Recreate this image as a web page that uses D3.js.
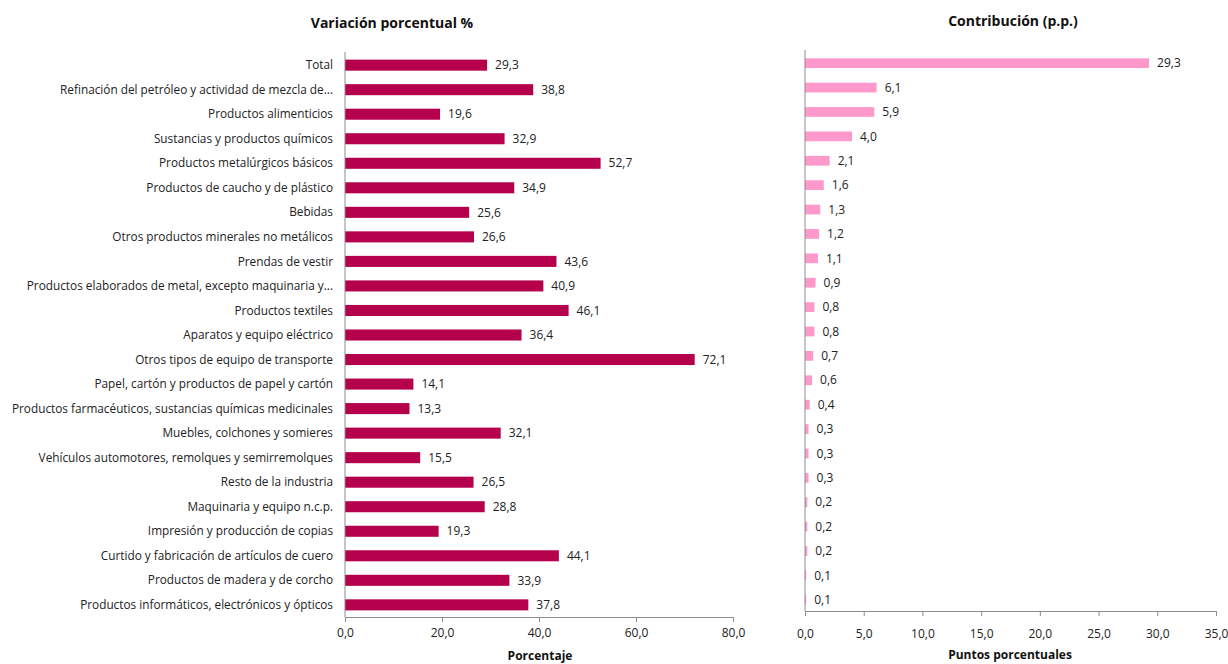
<!DOCTYPE html>
<html><head><meta charset="utf-8">
<script src="https://cdn.jsdelivr.net/npm/d3@7"></script>
<style>
html,body{margin:0;padding:0;background:#fff;}
svg{display:block;font-family:"Open Sans",sans-serif;}
</style></head>
<body>
<svg id="c" width="1228" height="664"></svg>
<script>
const categories = [
"Total",
"Refinación del petróleo y actividad de mezcla de...",
"Productos alimenticios",
"Sustancias y productos químicos",
"Productos metalúrgicos básicos",
"Productos de caucho y de plástico",
"Bebidas",
"Otros productos minerales no metálicos",
"Prendas de vestir",
"Productos elaborados de metal, excepto maquinaria y...",
"Productos textiles",
"Aparatos y equipo eléctrico",
"Otros tipos de equipo de transporte",
"Papel, cartón y productos de papel y cartón",
"Productos farmacéuticos, sustancias químicas medicinales",
"Muebles, colchones y somieres",
"Vehículos automotores, remolques y semirremolques",
"Resto de la industria",
"Maquinaria y equipo n.c.p.",
"Impresión y producción de copias",
"Curtido y fabricación de artículos de cuero",
"Productos de madera y de corcho",
"Productos informáticos, electrónicos y ópticos"
];
const variacion = [29.3,38.8,19.6,32.9,52.7,34.9,25.6,26.6,43.6,40.9,46.1,36.4,72.1,14.1,13.3,32.1,15.5,26.5,28.8,19.3,44.1,33.9,37.8];
const contribucion = [29.3,6.1,5.9,4.0,2.1,1.6,1.3,1.2,1.1,0.9,0.8,0.8,0.7,0.6,0.4,0.3,0.3,0.3,0.2,0.2,0.2,0.1,0.1];
const leftTicks = [0,20,40,60,80];
const rightTicks = [0,5,10,15,20,25,30,35];

const svg = d3.select("#c");
const fmt = v => d3.format(".1f")(v).replace(".", ",");
const axisColor = "#8c8c8c";

// LEFT PANEL
const xL = d3.scaleLinear().domain([0,80]).range([345,733]);
const yL = d3.scaleBand().domain(categories).range([53,617]).paddingInner(0.55).paddingOuter(0.27);
const gL = svg.append("g");
gL.selectAll("rect").data(categories).join("rect")
  .attr("x", xL(0)).attr("y", d => yL(d))
  .attr("width", (d,i) => xL(variacion[i]) - xL(0))
  .attr("height", yL.bandwidth())
  .attr("fill", "#b5004c");
gL.selectAll("text.val").data(categories).join("text").attr("class","val")
  .attr("x", (d,i) => xL(variacion[i]) + 8)
  .attr("y", d => yL(d) + yL.bandwidth()/2)
  .attr("dy","0.35em").attr("font-size",12).attr("fill","#222")
  .text((d,i) => fmt(variacion[i]));
gL.selectAll("text.cat").data(categories).join("text").attr("class","cat")
  .attr("x", 333)
  .attr("y", d => yL(d) + yL.bandwidth()/2)
  .attr("dy","0.35em").attr("text-anchor","end").attr("font-size",11.8).attr("fill","#222")
  .text(d => d);
const axL = gL.append("g").attr("transform","translate(0,617)")
  .call(d3.axisBottom(xL).tickValues(leftTicks).tickFormat(fmt).tickSizeInner(5).tickSizeOuter(5).tickPadding(6));
axL.select(".domain").attr("stroke",axisColor);
axL.selectAll(".tick line").attr("stroke",axisColor);
axL.selectAll(".tick text").attr("font-size",12).attr("fill","#222").attr("font-family","Open Sans");
gL.append("line").attr("x1",345).attr("x2",345).attr("y1",52).attr("y2",617).attr("stroke",axisColor);
svg.append("text").attr("x",392).attr("y",28).attr("text-anchor","middle")
  .attr("font-size",14).attr("font-weight","bold").attr("fill","#111").text("Variación porcentual %");
svg.append("text").attr("x",540).attr("y",660).attr("text-anchor","middle")
  .attr("font-size",12).attr("font-weight","bold").attr("fill","#111").text("Porcentaje");

// RIGHT PANEL
const xR = d3.scaleLinear().domain([0,35]).range([805,1216]);
const yR = d3.scaleBand().domain(categories).range([51,612]).paddingInner(0.6).paddingOuter(0.3);
const gR = svg.append("g");
gR.selectAll("rect").data(categories).join("rect")
  .attr("x", xR(0)).attr("y", d => yR(d))
  .attr("width", (d,i) => xR(contribucion[i]) - xR(0))
  .attr("height", yR.bandwidth())
  .attr("fill", "#ff99cc");
gR.selectAll("text.val").data(categories).join("text").attr("class","val")
  .attr("x", (d,i) => xR(contribucion[i]) + 8)
  .attr("y", d => yR(d) + yR.bandwidth()/2)
  .attr("dy","0.35em").attr("font-size",12).attr("fill","#222")
  .text((d,i) => fmt(contribucion[i]));
const axR = gR.append("g").attr("transform","translate(0,611)")
  .call(d3.axisBottom(xR).tickValues(rightTicks).tickFormat(fmt).tickSizeInner(5).tickSizeOuter(5).tickPadding(13));
axR.select(".domain").attr("stroke",axisColor);
axR.selectAll(".tick line").attr("stroke",axisColor);
axR.selectAll(".tick text").attr("font-size",12).attr("fill","#222").attr("font-family","Open Sans");
gR.append("line").attr("x1",805).attr("x2",805).attr("y1",50).attr("y2",611).attr("stroke",axisColor);
svg.append("text").attr("x",1013).attr("y",26).attr("text-anchor","middle")
  .attr("font-size",14).attr("font-weight","bold").attr("fill","#111").text("Contribución (p.p.)");
svg.append("text").attr("x",1010).attr("y",659).attr("text-anchor","middle")
  .attr("font-size",12).attr("font-weight","bold").attr("fill","#111").text("Puntos porcentuales");
</script>
</body></html>
